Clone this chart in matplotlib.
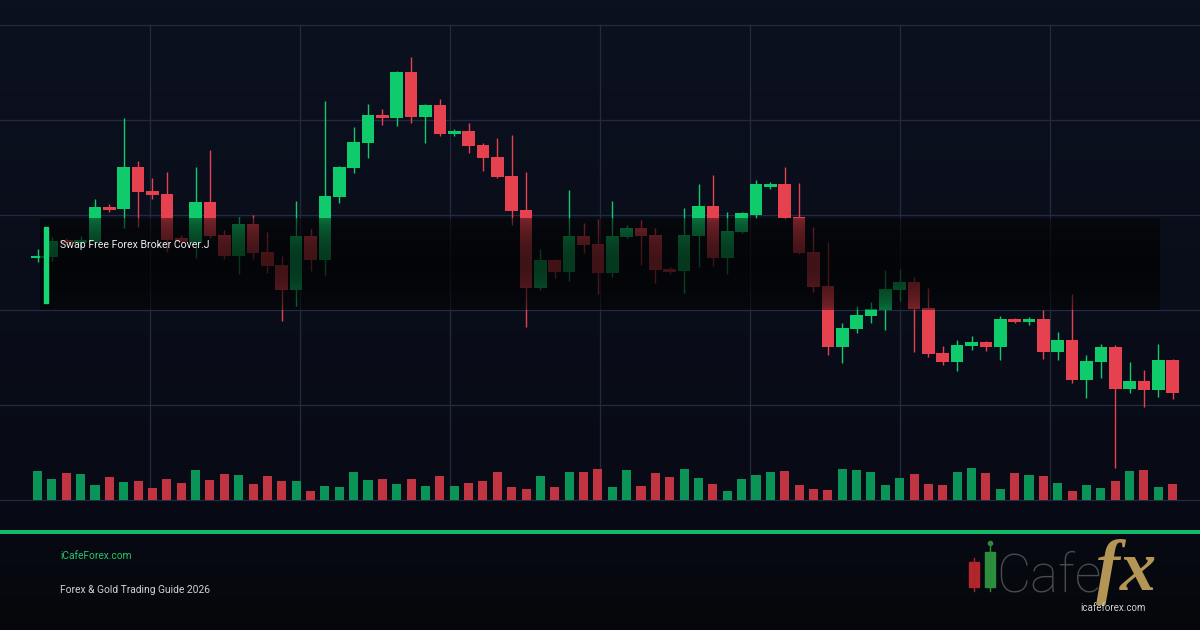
import numpy as np
import matplotlib
matplotlib.use("Agg")
import matplotlib.pyplot as plt
from matplotlib.patches import Rectangle
from matplotlib.colors import to_rgb

# OHLC (EURUSD-like quotes), 80 candles
open_ = [1.1052, 1.1053, 1.1070, 1.1067, 1.1068, 1.1103, 1.1101, 1.1143, 1.1119, 1.1116,
         1.1072, 1.1067, 1.1108, 1.1075, 1.1054, 1.1086, 1.1058, 1.1045, 1.1020, 1.1074,
         1.1050, 1.1113, 1.1142, 1.1167, 1.1195, 1.1192, 1.1238, 1.1193, 1.1205, 1.1176,
         1.1179, 1.1165, 1.1153, 1.1134, 1.1100, 1.1022, 1.1050, 1.1038, 1.1074, 1.1066,
         1.1037, 1.1073, 1.1082, 1.1075, 1.1041, 1.1039, 1.1074, 1.1104, 1.1052, 1.1078,
         1.1095, 1.1123, 1.1126, 1.1093, 1.1058, 1.1024, 1.0963, 1.0981, 1.0994, 1.1000,
         1.1020, 1.1028, 1.1002, 1.0957, 1.0948, 1.0964, 1.0968, 1.0963, 1.0991, 1.0988,
         1.0991, 1.0958, 1.0970, 1.0930, 1.0948, 1.0963, 1.0921, 1.0929, 1.0920, 1.0950]
high = [1.1061, 1.1073, 1.1072, 1.1074, 1.1111, 1.1106, 1.1192, 1.1149, 1.1132, 1.1138,
        1.1075, 1.1143, 1.1160, 1.1080, 1.1093, 1.1095, 1.1078, 1.1054, 1.1109, 1.1081,
        1.1209, 1.1144, 1.1183, 1.1206, 1.1201, 1.1239, 1.1253, 1.1206, 1.1211, 1.1181,
        1.1187, 1.1167, 1.1172, 1.1175, 1.1138, 1.1061, 1.1051, 1.1120, 1.1087, 1.1091,
        1.1109, 1.1085, 1.1090, 1.1082, 1.1043, 1.1102, 1.1126, 1.1135, 1.1098, 1.1098,
        1.1130, 1.1128, 1.1143, 1.1127, 1.1083, 1.1068, 1.0987, 1.1004, 1.1008, 1.1040,
        1.1041, 1.1033, 1.1022, 1.0964, 1.0970, 1.0974, 1.0969, 1.0994, 1.0992, 1.0993,
        1.1000, 1.0978, 1.1016, 1.0955, 1.0966, 1.0965, 1.0948, 1.0940, 1.0966, 1.0951]
low = [1.1048, 1.1049, 1.1065, 1.1063, 1.1064, 1.1098, 1.1082, 1.1083, 1.1111, 1.1058,
       1.1066, 1.1052, 1.1072, 1.1051, 1.1036, 1.1051, 1.1037, 1.0989, 1.1004, 1.1039,
       1.1035, 1.1107, 1.1137, 1.1152, 1.1185, 1.1184, 1.1187, 1.1167, 1.1174, 1.1174,
       1.1157, 1.1139, 1.1132, 1.1085, 1.0983, 1.1020, 1.1032, 1.1029, 1.1057, 1.1016,
       1.1033, 1.1072, 1.1045, 1.1027, 1.1036, 1.1017, 1.1043, 1.1044, 1.1036, 1.1077,
       1.1092, 1.1121, 1.1091, 1.1056, 1.1018, 1.0955, 1.0947, 1.0977, 1.0987, 1.0980,
       1.1009, 1.0958, 1.0953, 1.0945, 1.0939, 1.0960, 1.0959, 1.0950, 1.0987, 1.0985,
       1.0951, 1.0950, 1.0927, 1.0912, 1.0932, 1.0842, 1.0917, 1.0903, 1.0913, 1.0911]
close = [1.1054, 1.1069, 1.1067, 1.1070, 1.1103, 1.1100, 1.1143, 1.1118, 1.1115, 1.1070,
         1.1068, 1.1108, 1.1074, 1.1054, 1.1086, 1.1057, 1.1044, 1.1020, 1.1074, 1.1050,
         1.1114, 1.1143, 1.1168, 1.1195, 1.1192, 1.1238, 1.1193, 1.1205, 1.1176, 1.1179,
         1.1164, 1.1152, 1.1133, 1.1099, 1.1022, 1.1050, 1.1038, 1.1074, 1.1065, 1.1037,
         1.1074, 1.1082, 1.1074, 1.1040, 1.1038, 1.1075, 1.1104, 1.1052, 1.1079, 1.1097,
         1.1126, 1.1126, 1.1092, 1.1057, 1.1023, 1.0963, 1.0982, 1.0995, 1.1001, 1.1021,
         1.1028, 1.1001, 1.0956, 1.0948, 1.0965, 1.0968, 1.0963, 1.0991, 1.0988, 1.0991,
         1.0958, 1.0970, 1.0930, 1.0949, 1.0963, 1.0921, 1.0929, 1.0920, 1.0950, 1.0917]
volume = [29, 21, 27, 26, 15, 23, 18, 19, 12, 21, 17, 30, 20, 26, 25, 16, 24, 19, 19, 9,
          14, 13, 28, 20, 21, 16, 21, 14, 24, 14, 17, 19, 28, 13, 11, 24, 13, 28, 28, 31,
          13, 30, 14, 27, 23, 31, 22, 16, 9, 21, 25, 28, 29, 15, 11, 10, 31, 30, 28, 15,
          22, 26, 16, 15, 28, 32, 27, 11, 27, 25, 24, 17, 9, 15, 12, 19, 29, 30, 13, 16]

banner_text = "Swap Free Forex Broker Cover.J"
site_text = "iCafeForex.com"
guide_text = "Forex & Gold Trading Guide 2026"

UP = "#0fcb6b"
DOWN = "#e5414f"
VOL_UP = "#0b9457"
VOL_DOWN = "#c03541"
GRID = "#242b3e"

o = np.array(open_)
h = np.array(high)
l = np.array(low)
c = np.array(close)
x = np.arange(len(o))
up = c >= o

fig = plt.figure(figsize=(12, 6.3), dpi=100)

# background gradient
bg = fig.add_axes([0, 0, 1, 1], zorder=0)
top_c = np.array(to_rgb("#0c1120"))
mid_c = np.array(to_rgb("#080b15"))
bot_c = np.array(to_rgb("#05070b"))
t = np.linspace(0, 1, 630)[:, None]
grad = np.where(t < 500 / 630, top_c + (mid_c - top_c) * (t / (500 / 630)),
                mid_c + (bot_c - mid_c) * ((t - 500 / 630) / (130 / 630)))
bg.imshow(grad[:, None, :].repeat(2, axis=1), aspect="auto", extent=[0, 1, 0, 1])
bg.axis("off")

# price panel
ax = fig.add_axes([0, 130 / 630, 1, 475 / 630], zorder=1)
ax.patch.set_alpha(0)
for f in np.arange(0, 1.01, 0.2):
    ax.plot([0, 1], [f, f], color=GRID, lw=0.9, transform=ax.transAxes, clip_on=False, zorder=0)
for f in np.arange(1, 8) / 8:
    ax.plot([f, f], [0, 1], color=GRID, lw=0.9, transform=ax.transAxes, clip_on=False, zorder=0)

cols = np.where(up, UP, DOWN)
ax.vlines(x, l, h, colors=cols, lw=1.0, zorder=2)
body_low = np.minimum(o, c)
body_h = np.maximum(np.abs(c - o), 0.00025)
ax.bar(x, body_h, bottom=body_low, width=0.88, color=cols, zorder=3)
ax.set_xlim(-2.61, 80.9)
ax.set_ylim(1.0810, 1.1285)
ax.axis("off")

vax = ax.twinx()
vax.bar(x, volume, width=0.63, color=np.where(up, VOL_UP, VOL_DOWN), zorder=2)
vax.set_ylim(0, 475)
vax.axis("off")

# overlay: banner, footer, logo (pixel layout)
ov = fig.add_axes([0, 0, 1, 1], zorder=5)
ov.patch.set_alpha(0)
tt = np.linspace(0, 1, 100)
alpha = 0.45 + 0.28 * np.sin(np.pi * tt) ** 0.7
band = np.zeros((100, 1, 4))
band[:, 0, 0:3] = 0.01
band[:, 0, 3] = alpha
ov.imshow(band, aspect="auto", extent=[40, 1160, 310, 218], interpolation="bilinear")
ov.add_patch(Rectangle((43.5, 227), 4, 76, color="#18d472"))
ov.text(60, 245, banner_text, fontsize=7.6, color="#ededed", va="center",
        family=["Roboto", "DejaVu Sans"])

ov.plot([0, 1200], [531.5, 531.5], color="#13b86a", lw=2.9, solid_capstyle="butt")
ov.text(60, 556, site_text, fontsize=7.3, color="#27c46c", va="center",
        family=["Roboto", "DejaVu Sans"])
ov.text(60, 590, guide_text, fontsize=7.4, color="#d2d2d2", va="center",
        family=["Roboto", "DejaVu Sans"])

# logo
ov.plot([974.3, 974.3], [558, 591], color="#a8252a", lw=1)
ov.add_patch(Rectangle((969.3, 561.7), 10, 25, color="#b3262c"))
ov.plot([990, 990], [543, 591], color="#2a8a3c", lw=1)
ov.plot([990], [543], marker="o", ms=3, color="#2a8a3c")
ov.add_patch(Rectangle((985, 551.7), 10, 35, color="#2b8f3e"))
ov.text(996, 592, "Cafe", fontsize=38, color="#4b4b4f", va="baseline",
        family=["Roboto", "DejaVu Sans"], fontweight="light")
ov.text(1096, 590, "fx", fontsize=52, color="#b39656", va="baseline",
        family=["Liberation Serif", "DejaVu Serif"], fontweight="bold", style="italic")
ov.text(1080, 608, "icafeforex.com", fontsize=7, color="#cfcfcf", va="center",
        family=["Roboto", "DejaVu Sans"])

ov.set_xlim(0, 1200)
ov.set_ylim(630, 0)
ov.axis("off")

fig.savefig("out.png", dpi=100, facecolor="#0a0d18")
